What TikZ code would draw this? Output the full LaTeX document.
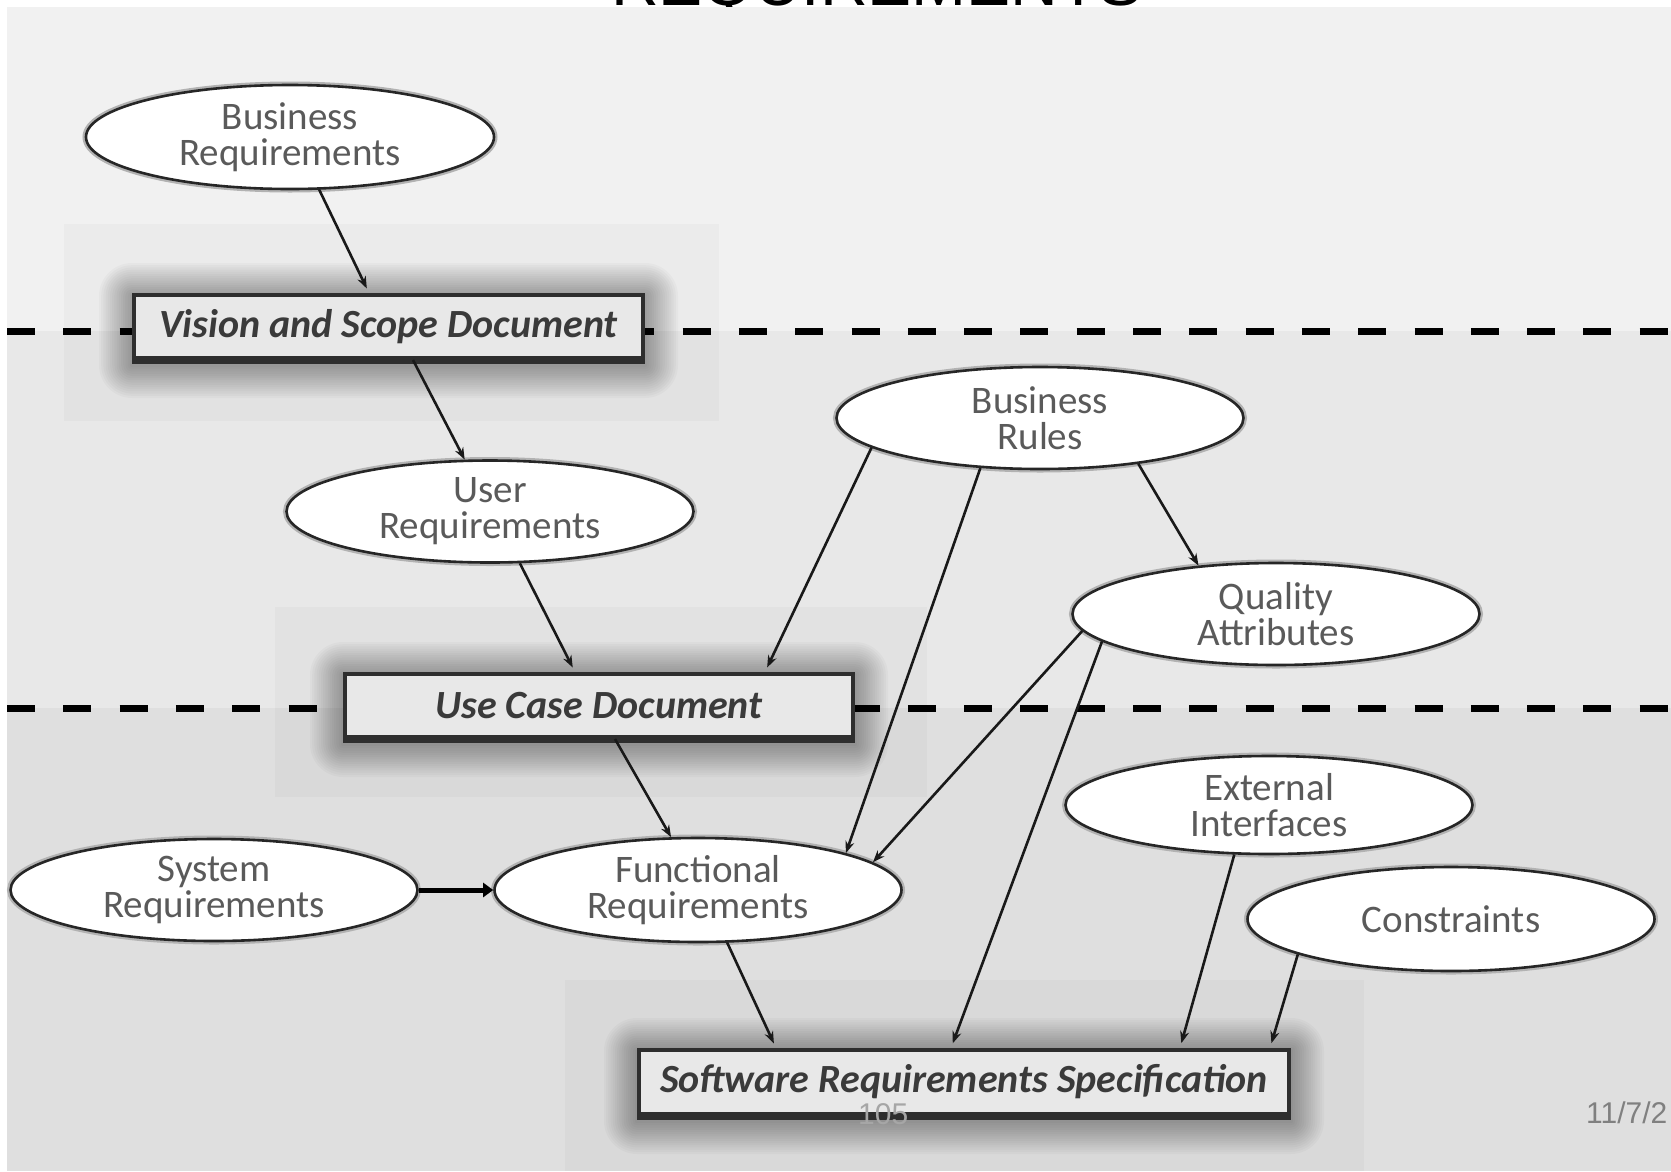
\documentclass[tikz,border=0pt]{standalone}
\usepackage{fontspec}
\setmainfont{Carlito}
\newfontfamily\slidefont{Liberation Sans}
\usetikzlibrary{arrows.meta,calc,shapes.geometric}
\definecolor{bandA}{HTML}{F1F1F1}
\definecolor{bandB}{HTML}{E8E8E8}
\definecolor{bandC}{HTML}{DFDFDF}
\definecolor{ovaltext}{HTML}{5A5A5A}
\definecolor{boxtext}{HTML}{3A3A3A}
\definecolor{boxfill}{HTML}{E8E8E8}
\definecolor{boxedge}{HTML}{2E2E2E}
\pgfdeclarelayer{bg}
\pgfdeclarelayer{shade}
\pgfsetlayers{bg,shade,main}
\begin{document}
\begin{tikzpicture}[x=1pt,y=-1pt,
  oval/.style={ellipse, draw=black!85, line width=2.6pt, fill=white,
    minimum width=407pt, minimum height=102pt, inner sep=0pt, align=center,
    text=ovaltext, font=\fontsize{39}{36}\selectfont,
    preaction={draw=black!30, line width=7pt}},
  doc/.style={rectangle, draw=boxedge, line width=4pt, fill=boxfill,
    minimum height=63pt, inner sep=0pt, text=boxtext,
    font=\fontsize{40}{44}\selectfont\bfseries\itshape},
  arr/.style={line width=2.6pt, draw=black!90, -{Stealth[length=12pt,width=9pt]}},
  toarr/.style={arr, shorten >=5pt},
  dashline/.style={line width=7pt, draw=black, dash pattern=on 28pt off 28.3pt},
  halo/.style={fill=black, opacity=0.025},
]
\useasboundingbox (0,0) rectangle (1671,1171);

\begin{pgfonlayer}{bg}
  \fill[white] (0,0) rectangle (1671,1171);
  \node[anchor=base, inner sep=0pt, font=\slidefont\fontsize{66}{70}\selectfont] (title) at (877,5) {REQUIREMENTS};
  \fill[bandA] (7,6.5) rectangle (1671,331);
  \fill[bandB] (7,331) rectangle (1671,708);
  \fill[bandC] (7,708) rectangle (1671,1171);
  % soft panels behind the documents
  \fill[halo] (64,224) rectangle (719,421);
  \fill[halo] (275,607) rectangle (927,797);
  \fill[halo] (565,980) rectangle (1364,1171);
  % level separators
  \draw[dashline] (7,331.5) -- (1671,331.5);
  \draw[dashline] (7,708) -- (1671,708);
\end{pgfonlayer}

% documents
\node[doc, minimum width=509pt] (vis) at (388.5,326.5) {Vision and Scope Document};
\node[doc, minimum width=508pt] (uc)  at (599,705.5) {Use Case Document};
\node[doc, minimum width=650pt, minimum height=64pt] (srs) at (964,1082) {Software Requirements Specification};
\draw[boxedge, line width=7pt] (vis.south west) -- (vis.south east);
\draw[boxedge, line width=7pt] (uc.south west) -- (uc.south east);
\draw[boxedge, line width=7pt] (srs.south west) -- (srs.south east);

% blurred shadows of the documents
\begin{pgfonlayer}{shade}
  \foreach \n in {vis,uc,srs}{
    \foreach \k in {1,...,15}{
      \fill[black, opacity=0.022, rounded corners=2.2*\k]
        ($(\n.north west)+(-2.2*\k,-2.2*\k+3)$) rectangle ($(\n.south east)+(2.2*\k,2.2*\k+5)$);
    }
  }
\end{pgfonlayer}

% requirement ovals
\node[oval, minimum width=408pt, minimum height=104pt] (bra) at (290,137) {Business\\Requirements};
\node[oval] (ur) at (490,511.5) {User\\Requirements};
\node[oval] (br) at (1040,418) {Business\\Rules};
\node[oval] (qa) at (1276,614) {Quality\\Attributes};
\node[oval, minimum height=98pt] (ei) at (1269,805) {External\\Interfaces};
\node[oval, minimum height=104pt] (co) at (1451,919) {Constraints};
\node[oval] (sr) at (214,890) {System\\Requirements};
\node[oval, minimum height=104pt] (fr) at (698,890) {Functional\\Requirements};

% connectors
\draw[toarr] (bra.-61) -- ([xshift=237pt]vis.north west);
\draw[arr] ([xshift=281pt]vis.south west) -- (ur.116);
\draw[toarr] (ur.-60.5) -- ([xshift=232pt]uc.north west);
\draw[toarr] (br.-170) -- ([xshift=422pt]uc.north west);
\draw[arr] (br.-140) -- (fr.14);
\draw[arr] (br.-25) -- (qa.148);
\draw[arr] (qa.-175) -- (fr.9.5);
\draw[toarr] (qa.-171.5) -- ([xshift=314pt]srs.north west);
\draw[arr] ([xshift=272pt]uc.south west) -- (fr.117);
\draw[line width=5pt, -{Triangle[length=10pt,width=14pt]}] (sr.east) -- (fr.west);
\draw[toarr] (fr.-61) -- ([xshift=139pt]srs.north west);
\draw[toarr] (ei.-125.4) -- ([xshift=543pt]srs.north west);
\draw[toarr] (co.-167.6) -- ([xshift=633pt]srs.north west);

% slide footer
\node[anchor=base west, inner sep=0pt, text=black!35, font=\slidefont\fontsize{30}{30}\selectfont] (pnum) at (858,1124) {105};
\node[anchor=base west, inner sep=0pt, text=black!50, font=\slidefont\fontsize{30}{30}\selectfont] (date) at (1586,1123) {11/7/2};
\end{tikzpicture}
\end{document}
